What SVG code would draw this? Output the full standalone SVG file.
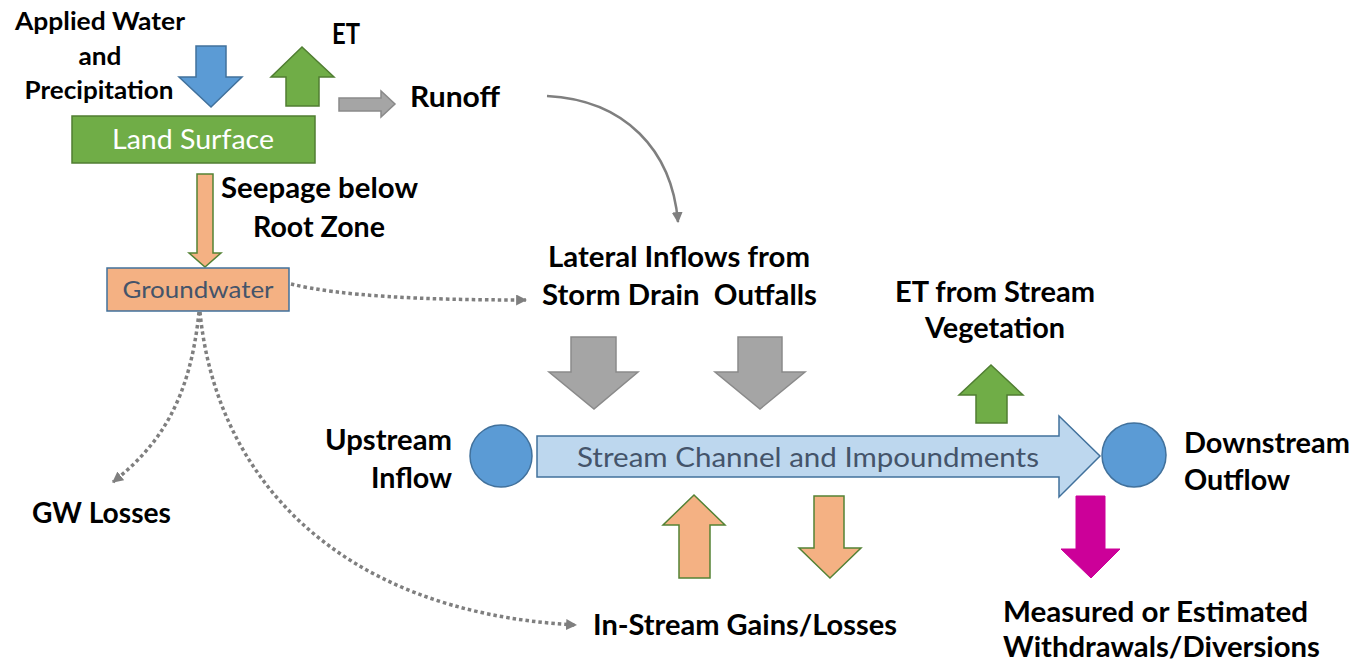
<svg xmlns="http://www.w3.org/2000/svg" width="1355" height="663" viewBox="0 0 1355 663">
<defs>
<marker id="ah" viewBox="0 0 10 10" refX="9" refY="5" markerWidth="11" markerHeight="11" markerUnits="userSpaceOnUse" orient="auto">
<path d="M0,0 L10,5 L0,10 z" fill="#7F7F7F"/>
</marker>
</defs>
<style>
.lbl{font-family:Lato,"Liberation Sans",sans-serif;font-weight:bold;fill:#000;}
.l1{font-size:25px;}
.l2{font-size:28px;}
.in{font-family:Lato,"Liberation Sans",sans-serif;font-weight:normal;}
.blue{fill:#5B9BD5;stroke:#41719C;stroke-width:1.5;}
.green{fill:#70AD47;stroke:#507E32;stroke-width:1.5;}
.gray{fill:#A5A5A5;stroke:#8A8A8A;stroke-width:1.5;}
.orange{fill:#F4B183;stroke:#548235;stroke-width:1.5;}
.mag{fill:#CC0099;stroke:#CC0099;stroke-width:1;}
.conn{fill:none;stroke:#7F7F7F;}
.solid{stroke-width:2.5;}
.dot{stroke-width:3.5;stroke-dasharray:3.5 3;}
</style>

<g id="applied-water">
<polygon class="blue" points="196,46 226,46 226,77 242,77 211,107 179,77 196,77"/>
<text class="lbl l1" x="100" y="30" text-anchor="middle" textLength="170" lengthAdjust="spacingAndGlyphs">Applied Water</text>
<text class="lbl l1" x="100" y="65" text-anchor="middle" textLength="43" lengthAdjust="spacingAndGlyphs">and</text>
<text class="lbl l1" x="99" y="99" text-anchor="middle" textLength="149" lengthAdjust="spacingAndGlyphs">Precipitation</text>
</g>

<g id="et">
<polygon class="green" points="302,47 334,77 319,77 319,106 286,106 286,77 271,77"/>
<text class="lbl l2" x="332" y="44" textLength="28" lengthAdjust="spacingAndGlyphs">ET</text>
</g>

<g id="runoff">
<polygon class="gray" points="339,98 381,98 381,91 395,104 381,117 381,111 339,111"/>
<text class="lbl l2" x="410" y="107" textLength="90" lengthAdjust="spacingAndGlyphs">Runoff</text>
</g>

<g id="land-surface">
<rect class="green" x="72" y="116" width="243" height="47"/>
<text class="in" x="193" y="149" font-size="27" fill="#FFFFFF" text-anchor="middle" textLength="162" lengthAdjust="spacingAndGlyphs">Land Surface</text>
</g>

<g id="seepage">
<polygon class="orange" points="197,174 213,174 213,253 221,253 205,267 189,253 197,253"/>
<text class="lbl l2" x="221" y="198" textLength="197" lengthAdjust="spacingAndGlyphs">Seepage below</text>
<text class="lbl l2" x="253" y="237" textLength="132" lengthAdjust="spacingAndGlyphs">Root Zone</text>
</g>

<g id="groundwater">
<rect x="107" y="268" width="182" height="43" fill="#F4B183" stroke="#41719C" stroke-width="1.5"/>
<text class="in" x="198" y="298" font-size="23" fill="#44546A" text-anchor="middle" textLength="151" lengthAdjust="spacingAndGlyphs">Groundwater</text>
</g>

<g id="lateral-inflows">
<text class="lbl l2" x="548" y="267" textLength="262" lengthAdjust="spacingAndGlyphs">Lateral Inflows from</text>
<text class="lbl l2" x="542" y="305" textLength="275" lengthAdjust="spacingAndGlyphs" xml:space="preserve">Storm Drain  Outfalls</text>
<polygon class="gray" points="571,337 616,337 616,372 638,372 594,409 549,372 571,372"/>
<polygon class="gray" points="738,337 782,337 782,372 805,372 760,409 715,372 738,372"/>
</g>

<g id="stream-et">
<text class="lbl l2" x="895" y="302" textLength="200" lengthAdjust="spacingAndGlyphs">ET from Stream</text>
<text class="lbl l2" x="925" y="338" textLength="140" lengthAdjust="spacingAndGlyphs">Vegetation</text>
<polygon class="green" points="991,365 1023,395 1007,395 1007,423 976,423 976,395 959,395"/>
</g>

<g id="upstream">
<circle class="blue" cx="501" cy="456" r="31"/>
<text class="lbl l2" x="452" y="450" text-anchor="end" textLength="127" lengthAdjust="spacingAndGlyphs">Upstream</text>
<text class="lbl l2" x="452" y="488" text-anchor="end" textLength="81" lengthAdjust="spacingAndGlyphs">Inflow</text>
</g>

<g id="stream-channel">
<polygon points="537,436 1059,436 1059,416 1100,456 1059,497 1059,477 537,477" fill="#BDD7EE" stroke="#41719C" stroke-width="1.5"/>
<text class="in" x="808" y="467" font-size="27" fill="#44546A" text-anchor="middle" textLength="462" lengthAdjust="spacingAndGlyphs">Stream Channel and Impoundments</text>
</g>

<g id="downstream">
<circle class="blue" cx="1134" cy="455" r="32"/>
<text class="lbl l2" x="1184" y="453" textLength="166" lengthAdjust="spacingAndGlyphs">Downstream</text>
<text class="lbl l2" x="1184" y="490" textLength="106" lengthAdjust="spacingAndGlyphs">Outflow</text>
</g>

<g id="in-stream">
<polygon class="orange" points="694,495 725,525 710,525 710,578 679,578 679,525 663,525"/>
<polygon class="orange" points="814,496 844,496 844,548 861,548 830,578 799,548 814,548"/>
<text class="lbl l2" x="593" y="635" textLength="304" lengthAdjust="spacingAndGlyphs">In-Stream Gains/Losses</text>
</g>

<g id="withdrawals">
<polygon class="mag" points="1076,496 1105,496 1105,549 1120,549 1091,578 1061,549 1076,549"/>
<text class="lbl l2" x="1003" y="622" textLength="305" lengthAdjust="spacingAndGlyphs">Measured or Estimated</text>
<text class="lbl l2" x="1003" y="657" textLength="317" lengthAdjust="spacingAndGlyphs">Withdrawals/Diversions</text>
</g>

<g id="gw-losses">
<text class="lbl l2" x="32" y="523" textLength="139" lengthAdjust="spacingAndGlyphs">GW Losses</text>
</g>

<g id="connectors">
<path class="conn solid" d="M547,96 C625,100 672,150 678,222" marker-end="url(#ah)"/>
<path class="conn dot" d="M291,284 C340,296 420,300 526,300" marker-end="url(#ah)"/>
<path class="conn dot" d="M199,312 C190,400 160,445 113,482" marker-end="url(#ah)"/>
<path class="conn dot" d="M200,312 C215,470 330,612 576,625" marker-end="url(#ah)"/>
</g>
</svg>
